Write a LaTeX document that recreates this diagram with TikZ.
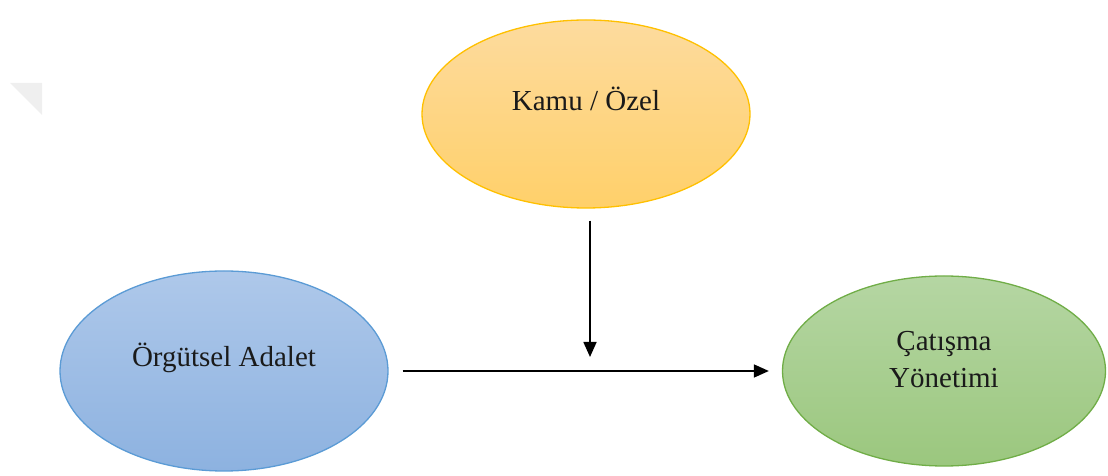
\documentclass[tikz,border=0pt]{standalone}
\usepackage{fontspec}
\setmainfont{Liberation Serif}
\usetikzlibrary{arrows.meta,shapes.geometric}
\definecolor{orbd}{HTML}{FFC000}
\definecolor{ortop}{HTML}{FDDB9E}
\definecolor{orbot}{HTML}{FFD06A}
\definecolor{blbd}{HTML}{5B9BD5}
\definecolor{bltop}{HTML}{AEC8EA}
\definecolor{blbot}{HTML}{8DB2E0}
\definecolor{grbd}{HTML}{70AD47}
\definecolor{grtop}{HTML}{B5D6A3}
\definecolor{grbot}{HTML}{9BC77E}
\definecolor{txt}{HTML}{1A1A1A}
\definecolor{tri}{HTML}{EFEFEF}
\begin{document}
\begin{tikzpicture}[x=1pt,y=1pt,
  oval/.style={ellipse,inner sep=0pt,line width=1.3pt},
  lbl/.style={inner sep=0pt,text=txt,font=\fontsize{29}{37}\selectfont,align=center},
  conn/.style={line width=1.7pt,-{Triangle[length=15pt,width=13pt]}}]
\useasboundingbox (0,0) rectangle (1108,476);
\fill[tri] (10,393) -- (42,393) -- (42,361) -- cycle;
\node[oval,draw=orbd,top color=ortop,bottom color=orbot,
  minimum width=328pt,minimum height=188pt] (kamu) at (586,362) {};
\node[lbl] (kamut) at ([yshift=15pt]kamu.center) {Kamu / Özel};
\node[oval,draw=blbd,top color=bltop,bottom color=blbot,
  minimum width=328pt,minimum height=200pt] (orgut) at (224,105) {};
\node[lbl] (orgutt) at ([yshift=13pt]orgut.center) {Örgütsel Adalet};
\node[oval,draw=grbd,top color=grtop,bottom color=grbot,
  minimum width=323pt,minimum height=190pt] (cat) at (944,105) {};
\node[lbl] (catt) at ([yshift=11pt]cat.center) {Çatışma\\Yönetimi};
\coordinate (m) at (590,119);
\draw[conn,shorten <=14pt,shorten >=13pt] (orgut) -- (cat);
\draw[conn,shorten <=12pt] (kamu.south -| m) -- (m);
\end{tikzpicture}
\end{document}
